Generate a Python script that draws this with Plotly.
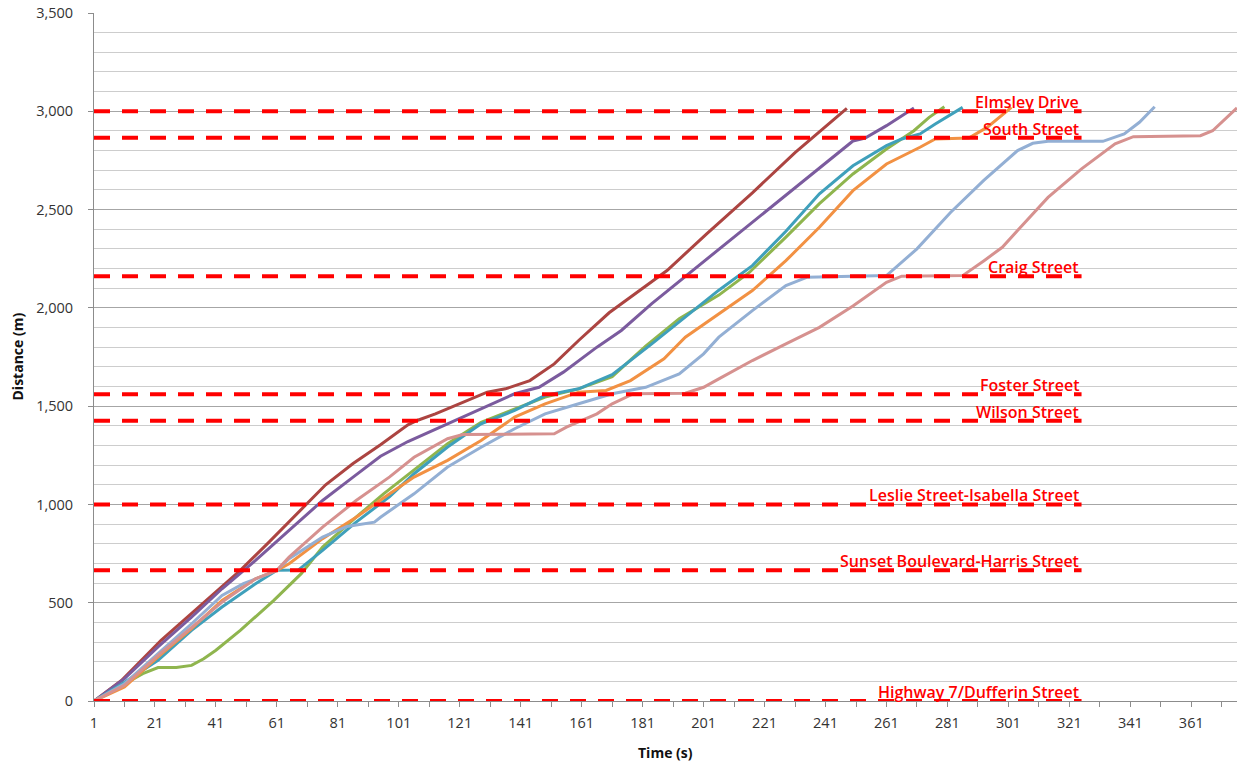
import plotly.graph_objects as go

# Cross streets along the corridor (distance from Highway 7, m)
street_names = [
    "Elmsley Drive", "South Street", "Craig Street", "Foster Street",
    "Wilson Street", "Leslie Street-Isabella Street",
    "Sunset Boulevard-Harris Street", "Highway 7/Dufferin Street",
]
street_dist = [3000, 2866, 2161, 1561, 1426, 1000, 665, 0]
street_end_t = 325

# Probe vehicle runs: time (s) and cumulative distance (m)
run1_t = [1, 10, 23, 37, 49, 58, 71, 77, 86, 95, 104, 107, 113, 121, 130, 136, 144, 152, 160, 170, 189, 202, 217, 231, 248]
run1_d = [0, 104, 309, 503, 665, 802, 1005, 1100, 1208, 1304, 1405, 1427, 1461, 1512, 1571, 1588, 1630, 1715, 1834, 1975, 2190, 2376, 2585, 2790, 3015]

run2_t = [1, 11, 22, 33, 43, 54, 65, 76, 86, 95, 104, 117, 128, 139, 147, 155, 166, 174, 184, 195, 206, 217, 228, 239, 250, 254, 261, 270]
run2_d = [0, 114, 275, 427, 571, 715, 868, 1020, 1139, 1245, 1320, 1410, 1487, 1563, 1596, 1673, 1800, 1885, 2022, 2160, 2297, 2435, 2572, 2710, 2849, 2864, 2927, 3017]

run3_t = [1, 11, 17, 22, 28, 33, 37, 41, 49, 60, 69, 76, 87, 96, 104, 117, 128, 139, 149, 160, 171, 182, 193, 206, 216, 228, 239, 250, 261, 270, 275, 280]
run3_d = [0, 88, 139, 170, 170, 181, 215, 258, 359, 512, 648, 783, 935, 1054, 1150, 1309, 1418, 1487, 1546, 1588, 1650, 1805, 1945, 2065, 2180, 2360, 2530, 2681, 2808, 2901, 2969, 3023]

run4_t = [1, 11, 22, 33, 43, 54, 61, 68, 76, 87, 98, 106, 117, 128, 139, 149, 160, 171, 184, 195, 206, 217, 228, 239, 250, 261, 266, 272, 277, 286]
run4_d = [0, 95, 207, 359, 478, 597, 665, 666, 766, 910, 1040, 1156, 1292, 1410, 1478, 1554, 1588, 1660, 1817, 1952, 2090, 2215, 2390, 2580, 2723, 2825, 2859, 2885, 2935, 3020]

run5_t = [1, 11, 22, 33, 43, 54, 61, 65, 76, 87, 98, 106, 117, 128, 139, 149, 160, 169, 177, 188, 195, 206, 217, 228, 239, 250, 261, 272, 277, 288, 294, 302]
run5_d = [0, 71, 224, 368, 512, 622, 665, 698, 826, 935, 1054, 1139, 1224, 1325, 1444, 1512, 1571, 1580, 1630, 1741, 1851, 1970, 2088, 2240, 2410, 2596, 2732, 2817, 2859, 2864, 2918, 3020]

run6_t = [1, 11, 22, 33, 43, 50, 57, 61, 65, 76, 84, 93, 95, 106, 117, 128, 139, 149, 160, 171, 182, 193, 201, 206, 217, 228, 235, 261, 271, 282, 293, 304, 309, 314, 332, 339, 344, 349]
run6_d = [0, 88, 241, 393, 537, 597, 639, 665, 724, 834, 888, 910, 935, 1054, 1190, 1291, 1385, 1461, 1512, 1563, 1596, 1664, 1766, 1851, 1986, 2113, 2156, 2164, 2300, 2485, 2650, 2800, 2837, 2847, 2847, 2885, 2944, 3023]

run7_t = [1, 11, 22, 33, 43, 54, 61, 65, 76, 87, 98, 106, 117, 122, 152, 156, 166, 171, 178, 195, 201, 206, 217, 228, 239, 250, 261, 266, 286, 293, 299, 304, 314, 325, 336, 342, 364, 368, 376]
run7_d = [0, 80, 232, 376, 503, 622, 665, 732, 885, 1020, 1140, 1240, 1334, 1356, 1359, 1393, 1461, 1512, 1563, 1566, 1596, 1639, 1732, 1817, 1901, 2010, 2130, 2161, 2164, 2240, 2308, 2393, 2562, 2707, 2834, 2871, 2876, 2901, 3017]

runs = [
    (run1_t, run1_d, "#AC4441"),
    (run2_t, run2_d, "#7B5B9E"),
    (run3_t, run3_d, "#8FB54E"),
    (run4_t, run4_d, "#3FA0BB"),
    (run5_t, run5_d, "#F29143"),
    (run6_t, run6_d, "#93AFD4"),
    (run7_t, run7_d, "#D6918F"),
]

fig = go.Figure()

for t, d, color in runs:
    fig.add_trace(go.Scatter(
        x=t, y=d, mode="lines",
        line=dict(color=color, width=3),
        showlegend=False, hoverinfo="skip",
    ))

# Dashed reference lines at each cross street
for name, dist in zip(street_names, street_dist):
    fig.add_trace(go.Scatter(
        x=[1, street_end_t], y=[dist, dist], mode="lines",
        line=dict(color="#FF0000", width=4, dash="16px,12px"),
        showlegend=False, hoverinfo="skip",
    ))
    fig.add_annotation(
        x=street_end_t, y=dist, xref="x", yref="y",
        text=name, showarrow=False,
        xanchor="right", yanchor="middle", yshift=9, xshift=-1,
        font=dict(family="Open Sans", size=16, color="#FF0000", weight=600),
    )

x_ticks = list(range(1, 362, 20))

fig.update_xaxes(
    range=[1, 376], tickmode="array", tickvals=x_ticks,
    ticktext=[str(v) for v in x_ticks],
    showgrid=False, zeroline=False,
    showline=True, linecolor="#8C8C8C", linewidth=1,
    ticks="outside", ticklen=5, tickcolor="#8C8C8C",
    minor=dict(tick0=1, dtick=10, ticks="outside", ticklen=5, tickcolor="#8C8C8C", showgrid=False),
    tickfont=dict(family="Open Sans", size=14.5, color="#333333"),
    ticklabelstandoff=4,
)
fig.update_yaxes(
    range=[0, 3500], dtick=500, tick0=0, tickformat=",",
    showgrid=True, gridcolor="#A6A6A6", gridwidth=1,
    zeroline=False,
    showline=True, linecolor="#8C8C8C", linewidth=1,
    ticks="outside", ticklen=5, tickcolor="#8C8C8C",
    minor=dict(dtick=100, showgrid=True, gridcolor="#CDCDCD", gridwidth=1, ticks=""),
    tickfont=dict(family="Open Sans", size=14.5, color="#333333"),
    ticklabelstandoff=12,
)

fig.add_annotation(
    text="Distance (m)", xref="paper", yref="paper", x=0, y=0.5,
    xshift=-89, textangle=-90, showarrow=False,
    font=dict(family="Open Sans", size=14, color="#111111", weight="bold"),
)
fig.add_annotation(
    text="Time (s)", xref="paper", yref="paper", x=0.5, y=0,
    yshift=-63, showarrow=False,
    font=dict(family="Open Sans", size=14, color="#111111", weight="bold"),
)

fig.update_layout(
    width=1239, height=767,
    margin=dict(l=94, r=2, t=13, b=66),
    paper_bgcolor="white", plot_bgcolor="white",
    showlegend=False,
)

fig.write_html("out.html")
